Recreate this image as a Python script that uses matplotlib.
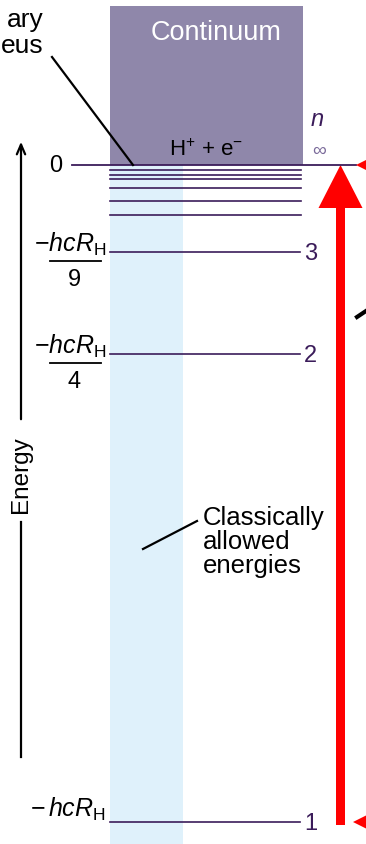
import matplotlib.pyplot as plt
import matplotlib.patches as mpatches

plt.rcParams['font.family'] = ['Liberation Sans', 'DejaVu Sans']
plt.rcParams['mathtext.fontset'] = 'custom'
plt.rcParams['mathtext.rm'] = 'Liberation Sans'
plt.rcParams['mathtext.it'] = 'Liberation Sans:italic'

# Energy levels of hydrogen, placed along the drawn energy axis (diagram units).
level_n = ['1', '2', '3']
level_y = [823, 355, 253]
level_denom = ['', '4', '9']
zero_y = 166
# crowded levels just below the ionisation limit (n = 4, 5, 6, ...)
dense_y = [171, 176, 180, 189, 202, 216]

PURPLE = '#3b1c5a'
CONT = '#8f87aa'
BLUE = '#dff1fb'

fig = plt.figure(figsize=(3.66, 8.45), dpi=100)
ax = fig.add_axes([0, 0, 1, 1])
ax.set_xlim(0, 366)
ax.set_ylim(845, 0)
ax.axis('off')

# Continuum block and classically allowed strip
ax.add_patch(mpatches.Rectangle((110, 7), 193, zero_y - 7, color=CONT, lw=0))
ax.add_patch(mpatches.Rectangle((110, zero_y), 73, 845 - zero_y, color=BLUE, lw=0))
ax.text(216, 33, 'Continuum', color='white', fontsize=19.5, ha='center', va='center')
ax.text(206, 150, r'H$^{+}$ + e$^{-}$', color='black', fontsize=16,
        ha='center', va='center')

# Levels
ax.plot([72, 356], [zero_y, zero_y], color=PURPLE, lw=1.3)
for y in dense_y:
    ax.plot([110, 301], [y, y], color=PURPLE, lw=1.2)
for n, y, d in zip(level_n, level_y, level_denom):
    ax.plot([110, 300], [y, y], color=PURPLE, lw=1.2)
    ax.text(304, y + 1, n, color=PURPLE, fontsize=17, ha='left', va='center')
    if d:
        ax.text(106, y - 9, r'$-\mathit{hcR}_{\mathrm{H}}$', fontsize=18,
                ha='right', va='center')
        ax.plot([50, 101], [y + 9, y + 9], color='black', lw=1.3)
        ax.text(74, y + 27, d, fontsize=17, ha='center', va='center')
    else:
        ax.text(106, y - 14, r'$-\,\mathit{hcR}_{\mathrm{H}}$', fontsize=18,
                ha='right', va='center')

ax.text(62, zero_y, '0', fontsize=17, ha='right', va='center')
ax.text(317, 120, 'n', color=PURPLE, fontsize=17, style='italic',
        ha='center', va='center')
ax.text(319, 151, '\u221e', color='#7a6a9a', fontsize=14, ha='center', va='center')

# Energy axis
ax.annotate('', xy=(21, 140), xytext=(21, 423),
            arrowprops=dict(arrowstyle='->,head_length=0.7,head_width=0.3',
                            lw=1.6, color='black'))
ax.plot([21, 21], [523, 758], color='black', lw=1.6)
ax.text(21, 475, 'Energy', fontsize=17.5, rotation=90, ha='center', va='center')

# Annotations
ax.text(44, 20, 'ary', fontsize=19, ha='right', va='center')
ax.text(44, 46, 'eus', fontsize=19, ha='right', va='center')
ax.plot([52, 133], [58, 166], color='black', lw=1.6)
ax.text(203, 542, 'Classically\nallowed\nenergies', fontsize=18.5,
        ha='left', va='center', linespacing=1.0)
ax.plot([143, 197], [550, 522], color='black', lw=1.6)

# Ionisation arrow
ax.arrow(340.5, 826, 0, zero_y - 826, width=9, head_width=44, head_length=43,
         length_includes_head=True, color='red', lw=0)
ax.plot([362], [zero_y], marker='<', color='red', ms=8, mew=0)
ax.plot([362], [823], marker='<', color='red', ms=13, mew=0)
ax.plot([357, 366], [318, 312], color='black', lw=3)

plt.savefig('out.png', dpi=100)
